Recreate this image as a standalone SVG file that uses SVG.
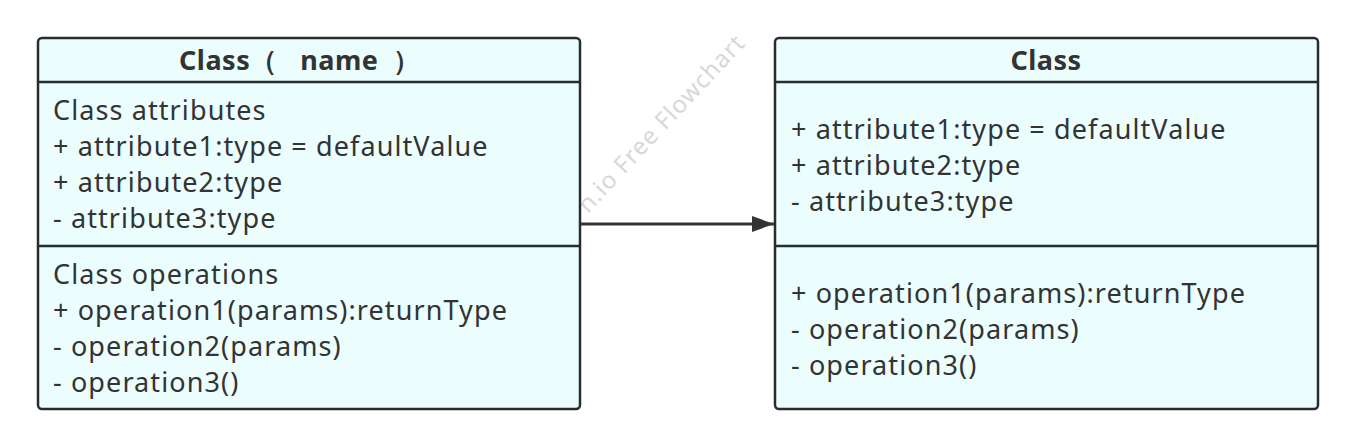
<svg xmlns="http://www.w3.org/2000/svg" width="1355" height="447" viewBox="0 0 1355 447">
<style>
.box{fill:#ebfdfd;stroke:#262c31;stroke-width:2.5}
.ln{stroke:#262c31;stroke-width:2.5}
text{font-family:"Noto Sans","Open Sans",sans-serif;font-size:27px;letter-spacing:1.1px;fill:#333}
.h{font-weight:bold;text-anchor:middle;letter-spacing:0.5px}
.wm{fill:#d8d8d8;font-size:24px;letter-spacing:1px}
</style>
<defs><marker id="ar" markerWidth="22" markerHeight="16" refX="22" refY="8" orient="auto" markerUnits="userSpaceOnUse"><path d="M0,0 L22,8 L0,16 Z" fill="#333"/></marker></defs>
<text class="wm" transform="translate(588,214) rotate(-47)">n.io Free Flowchart</text>
<g id="class1">
<rect class="box" x="38" y="38" width="542" height="371" rx="4"/>
<line class="ln" x1="38" y1="82" x2="580" y2="82"/>
<line class="ln" x1="38" y1="246" x2="580" y2="246"/>
<text class="h" x="300" y="70" xml:space="preserve">Class（   name  ）</text>
<text x="53" y="120">Class attributes</text>
<text x="53" y="156">+ attribute1:type = defaultValue</text>
<text x="53" y="192">+ attribute2:type</text>
<text x="53" y="228">- attribute3:type</text>
<text x="53" y="284">Class operations</text>
<text x="53" y="320">+ operation1(params):returnType</text>
<text x="53" y="356">- operation2(params)</text>
<text x="53" y="392">- operation3()</text>
</g>
<g id="class2">
<rect class="box" x="775" y="38" width="543" height="371" rx="4"/>
<line class="ln" x1="775" y1="82" x2="1318" y2="82"/>
<line class="ln" x1="775" y1="246" x2="1318" y2="246"/>
<text class="h" x="1046" y="70">Class</text>
<text x="791" y="139">+ attribute1:type = defaultValue</text>
<text x="791" y="175">+ attribute2:type</text>
<text x="791" y="211">- attribute3:type</text>
<text x="791" y="303">+ operation1(params):returnType</text>
<text x="791" y="339">- operation2(params)</text>
<text x="791" y="375">- operation3()</text>
</g>
<g id="connectors">
<line x1="581" y1="224" x2="774" y2="224" stroke="#333" stroke-width="3" marker-end="url(#ar)"/>
</g>
</svg>
